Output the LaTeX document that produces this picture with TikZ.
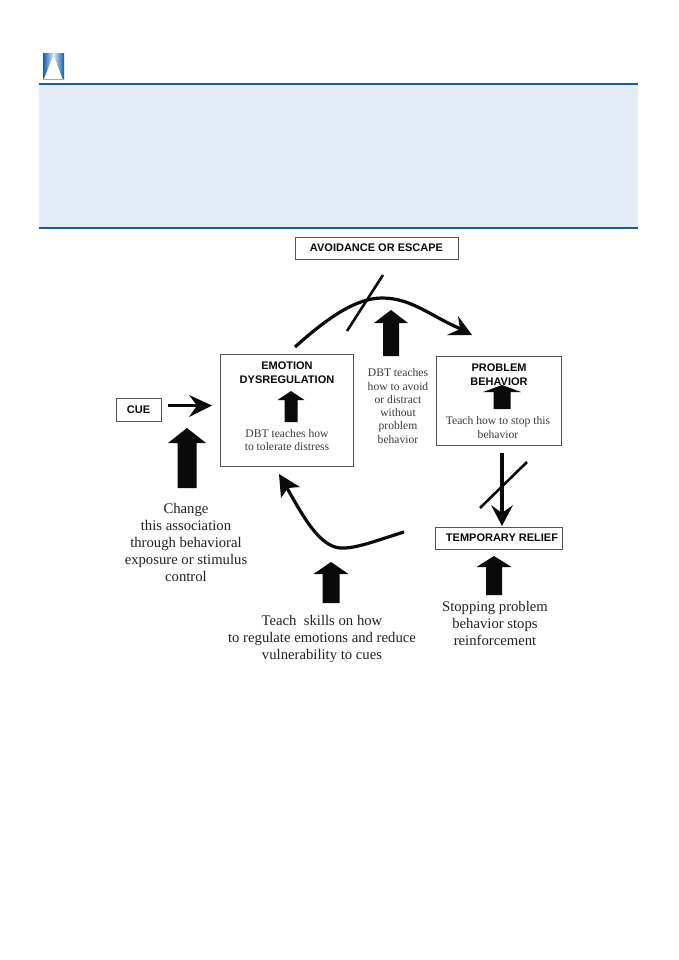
\documentclass[tikz,border=0pt]{standalone}
\usepackage{fontspec}
\setmainfont{Liberation Serif}
\newfontfamily\lsans{Liberation Sans}
\definecolor{bandfill}{HTML}{E3ECF6}
\definecolor{bandline}{HTML}{1B5E9F}
\definecolor{iconblue}{HTML}{0F5FB0}
\definecolor{boxline}{HTML}{555555}
\definecolor{inkc}{HTML}{0A0A0A}
\newcommand{\blockup}[6]{\fill[inkc] (#1,#2) -- (#1+#4,#3) -- (#1+#5,#3) -- (#1+#5,#6) -- (#1-#5,#6) -- (#1-#5,#3) -- (#1-#4,#3) -- cycle;}
\tikzset{
  labelbox/.style={draw=boxline,line width=0.9pt,fill=white,inner sep=0pt,anchor=north west},
  capslabel/.style={font=\lsans\bfseries\fontsize{11}{14}\selectfont,align=center,text=inkc,inner sep=0pt},
  smalltext/.style={font=\fontsize{11.6}{13.3}\selectfont,align=center,text=inkc!80!white,inner sep=0pt},
  bigtext/.style={font=\fontsize{14.7}{17}\selectfont,align=center,text=inkc!90!white,inner sep=0pt},
  curve/.style={draw=inkc,line width=3.2pt},
  slash/.style={draw=inkc,line width=2.6pt},
  head/.style={fill=inkc,draw=none}
}
\begin{document}
\begin{tikzpicture}[x=1pt,y=-1pt]
\useasboundingbox (0,0) rectangle (678,960);
\fill[white] (0,0) rectangle (678,960);
% header band
\fill[bandfill] (39,84) rectangle (638,228);
\draw[bandline,line width=2pt] (39,84) -- (638,84);
\draw[bandline,line width=1.2pt] (39,228) -- (638,228);
% icon
\shade[left color=iconblue,right color=iconblue,middle color=iconblue!15!white] (43,54) rectangle (64,80);
\fill[white] (53.5,55) -- (62.5,79) -- (44,79) -- cycle;
\draw[iconblue!50!white,line width=0.5pt] (43,79.7) -- (64,79.7);
% boxes
\node[labelbox,minimum width=133pt,minimum height=112pt] (emotion) at (220,354) {};
\node[labelbox,minimum width=163pt,minimum height=22pt] (avoid) at (295,237) {};
\node[labelbox,minimum width=45pt,minimum height=23pt] (cue) at (116,398) {};
\node[labelbox,minimum width=125pt,minimum height=89pt] (problem) at (436,356) {};
\node[labelbox,minimum width=127pt,minimum height=22pt] (relief) at (435,527) {};
% box labels
\node[capslabel] (avoidt) at (376.5,248) {AVOIDANCE OR ESCAPE};
\node[capslabel] (cuet) at (138.5,409.5) {CUE};
\node[capslabel] (emot) at (287,372.5) {EMOTION\\DYSREGULATION};
\node[capslabel] (probt) at (499,374.5) {PROBLEM\\BEHAVIOR};
\node[capslabel] (relieft) at (502,538) {TEMPORARY RELIEF};
% body texts
\node[smalltext] (t1) at (287,440) {DBT teaches how\\to tolerate distress};
\node[smalltext] (t2) at (398,406) {DBT teaches\\how to avoid\\or distract\\without\\problem\\behavior};
\node[smalltext] (t3) at (498,427.5) {Teach how to stop this\\behavior};
\node[bigtext] (t4) at (186,542) {Change\\this association\\through behavioral\\exposure or stimulus\\control};
\node[bigtext] (t5) at (322,638.5) {Teach\ \ skills on how\\to regulate emotions and reduce\\vulnerability to cues};
\node[bigtext] (t6) at (495,623) {Stopping problem\\behavior stops\\reinforcement};
% block arrows
\blockup{291}{391}{400}{13.5}{6.5}{422}
\blockup{187}{428}{443}{19}{9.5}{488}
\blockup{391}{310}{323}{17}{8}{356}
\blockup{502}{385}{392}{19}{8.5}{409}
\blockup{494}{556}{567}{17.5}{8}{595}
\blockup{331}{562}{574}{17.5}{8.5}{603}
% connectors
\coordinate (cueS) at (168,405.5);
\coordinate (cueN) at (197,405.5);
\draw[curve] (cueS) -- (cueN);
\fill[head] (212,405.5) -- (189,395) -- (197,405.5) -- (189,417) -- cycle;
% top curve
\coordinate (topS) at (295,347);
\coordinate (topN) at (461,329);
\draw[curve] (topS) .. controls (325,320) and (355,298) .. (382,298) .. controls (412,298) and (432,317) .. (topN);
\fill[head] (472,335) -- (458,316) -- (460,329) -- (447,335) -- cycle;
\draw[slash] (347,331) -- (383,275);
% problem to relief
\coordinate (prS) at (502,453);
\coordinate (prN) at (502,513);
\draw[curve] (prS) -- (prN);
\fill[head] (502,526) -- (491,505) -- (502,513) -- (513,505) -- cycle;
\draw[slash] (480,508) -- (527,462);
% bottom curve
\coordinate (botS) at (404,532);
\coordinate (botN) at (287,488);
\draw[curve] (botS) .. controls (375,541) and (355,549) .. (340,548) .. controls (320,546) and (305,520) .. (botN);
\fill[head] (279,474) -- (300,487) -- (288,488) -- (281,498) -- cycle;
\end{tikzpicture}
\end{document}
